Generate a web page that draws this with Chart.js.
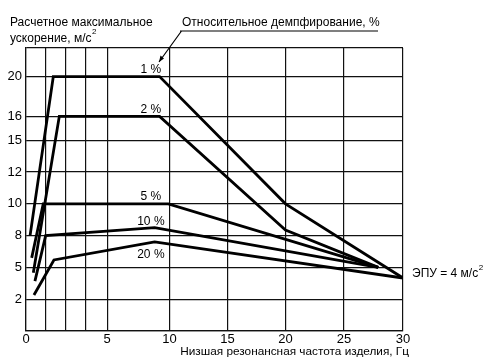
<!DOCTYPE html>
<html>
<head>
<meta charset="utf-8">
<script src="https://cdn.jsdelivr.net/npm/chart.js@4/dist/chart.umd.min.js"></script>
<style>
html, body { margin: 0; padding: 0; background: #fff; }
</style>
</head>
<body>
<canvas id="grafik" width="495" height="361"></canvas>
<script>
// Низшая резонансная частота (Гц) и расчетное ускорение (м/с2) для каждой кривой
const freq1 = [0.25, 1.68, 9.2, 20, 30];
const acc1 = [8, 20, 20, 10, 4];
const freq2 = [0.45, 2.05, 9.2, 20, 27.9];
const acc2 = [4.5, 16, 16, 8.35, 5];
const freq5 = [0.35, 1.06, 9.9, 27.9];
const acc5 = [5.9, 10, 10, 5];
const freq10 = [0.55, 1.21, 8.8, 27.9];
const acc10 = [3.7, 8, 8.5, 5];
const freq20 = [0.49, 1.72, 8.8, 30];
const acc20 = [2.4, 5.7, 7.4, 4];
const dampLabels = ['1 %', '2 %', '5 %', '10 %', '20 %'];

// деления осей
const yTickValues = [0, 2, 5, 8, 10, 12, 15, 16, 20];
const xTickValues = [0, 5, 10, 15, 20, 25, 30];

// шкалы на рисунке неравномерные: положение каждого деления на оси
const yTickPos = [0, 1, 2, 3, 4, 5, 6, 6.75, 8];
const yTop = 8.9;
const xTickPos = [0, 4.094, 7.236, 10.157, 13.078, 16.029, 19];
const xMinor = [1, 2, 3];

function interp(v, from, to) {
    for (let i = 0; i < from.length - 1; i++) {
        if (v <= from[i + 1] || i === from.length - 2) {
            const t = (v - from[i]) / (from[i + 1] - from[i]);
            return to[i] + t * (to[i + 1] - to[i]);
        }
    }
    return to[0];
}
const toX = hz => interp(hz, xTickValues, xTickPos);
const toY = a => interp(a, yTickValues, yTickPos);

const curves = [
    [freq1, acc1], [freq2, acc2], [freq5, acc5], [freq10, acc10], [freq20, acc20]
];

const FONT = '"Liberation Sans", Arial, sans-serif';

const podpisi = {
    id: 'podpisi',
    afterDraw(chart) {
        const c = chart.ctx;
        const xs = chart.scales.x, ys = chart.scales.y;
        c.save();
        c.fillStyle = '#000';
        c.strokeStyle = '#000';
        c.textBaseline = 'alphabetic';
        c.textAlign = 'left';

        // подпись оси Y
        c.font = '12px ' + FONT;
        c.fillText('Расчетное максимальное', 10, 26);
        c.fillText('ускорение, м/с', 10, 42);
        let w = c.measureText('ускорение, м/с').width;
        c.font = '8px ' + FONT;
        c.fillText('2', 10 + w + 0.5, 34);

        // заголовок с выноской
        c.font = '12px ' + FONT;
        c.fillText('Относительное демпфирование, %', 182, 26);
        c.lineWidth = 1.2;
        c.beginPath();
        c.moveTo(180, 31);
        c.lineTo(378, 31);
        c.moveTo(181.5, 31);
        c.lineTo(159, 62);
        c.stroke();
        // наконечник стрелки
        c.beginPath();
        c.moveTo(159, 62);
        c.lineTo(160.5, 55.5);
        c.lineTo(164, 58.5);
        c.closePath();
        c.fill();

        // подписи кривых
        const lx = xs.getPixelForValue(toX(8.5));
        const ly = [73, 113, 200, 225, 258];
        c.textAlign = 'center';
        dampLabels.forEach((t, i) => c.fillText(t, lx, ly[i]));

        // ЭПУ
        c.textAlign = 'left';
        const ex = xs.right + 9;
        const ey = ys.getPixelForValue(toY(4)) - 1;
        c.fillText('ЭПУ = 4 м/с', ex, ey);
        w = c.measureText('ЭПУ = 4 м/с').width;
        c.font = '8px ' + FONT;
        c.fillText('2', ex + w + 0.5, ey - 7);

        // подпись оси X
        c.font = '11.8px ' + FONT;
        c.textAlign = 'right';
        c.fillText('Низшая резонансная частота изделия, Гц', xs.right + 6, 355);
        c.restore();
    }
};

new Chart(document.getElementById('grafik'), {
    type: 'scatter',
    data: {
        datasets: curves.map(([hz, acc]) => ({
            data: hz.map((h, i) => ({ x: toX(h), y: toY(acc[i]) })),
            showLine: true,
            borderColor: '#000',
            borderWidth: 2.8,
            pointRadius: 0,
            fill: false,
            tension: 0
        }))
    },
    options: {
        responsive: false,
        animation: false,
        devicePixelRatio: 1,
        layout: { padding: { top: 48, right: 92, bottom: 0, left: 0 } },
        plugins: {
            legend: { display: false },
            tooltip: { enabled: false }
        },
        scales: {
            x: {
                type: 'linear',
                min: 0,
                max: 19,
                afterFit: s => { s.height = 30; },
                afterBuildTicks: s => {
                    s.ticks = xMinor.concat(xTickPos).sort((a, b) => a - b).map(v => ({ value: v }));
                },
                ticks: {
                    autoSkip: false,
                    maxRotation: 0,
                    padding: 1,
                    color: '#000',
                    font: { family: FONT, size: 13 },
                    callback: function(value) {
                        const i = xTickPos.indexOf(value);
                        return i >= 0 ? String(xTickValues[i]) : '';
                    }
                },
                grid: { color: '#111', lineWidth: 1.2, drawTicks: false },
                border: { color: '#111', width: 1.2 }
            },
            y: {
                type: 'linear',
                min: 0,
                max: yTop,
                afterFit: s => { s.width = 26; },
                afterBuildTicks: s => {
                    s.ticks = yTickPos.concat([yTop]).map(v => ({ value: v }));
                },
                ticks: {
                    autoSkip: false,
                    padding: 4,
                    color: '#000',
                    font: { family: FONT, size: 13 },
                    callback: function(value) {
                        const i = yTickPos.indexOf(value);
                        return i > 0 ? String(yTickValues[i]) : '';
                    }
                },
                grid: { color: '#111', lineWidth: 1.2, drawTicks: false },
                border: { color: '#111', width: 1.2 }
            }
        }
    },
    plugins: [podpisi]
});
</script>
</body>
</html>
